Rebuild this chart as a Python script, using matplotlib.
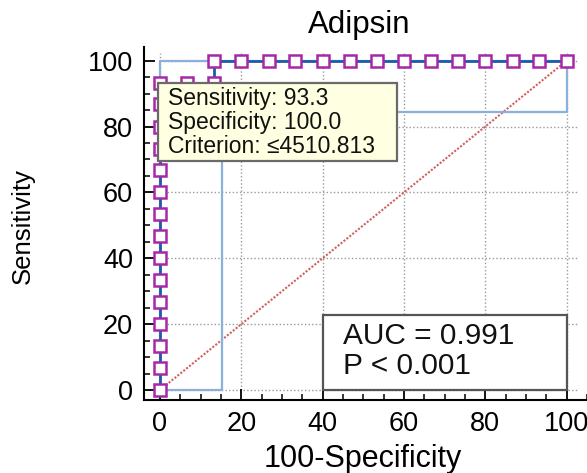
import matplotlib
matplotlib.use("Agg")
import matplotlib.pyplot as plt
from matplotlib.patches import Rectangle
from matplotlib.ticker import MultipleLocator

plt.rcParams['font.family'] = ['Liberation Sans', 'DejaVu Sans']

# ROC data (100-Specificity, Sensitivity)
fpr = [0.0, 0.0, 0.0, 0.0, 0.0, 0.0, 0.0, 0.0, 0.0, 0.0, 0.0, 0.0, 0.0, 0.0, 0.0,
       6.7, 13.3, 13.3, 20.0, 26.7, 33.3, 40.0, 46.7, 53.3, 60.0, 66.7, 73.3,
       80.0, 86.7, 93.3, 100.0]
tpr = [0.0, 6.7, 13.3, 20.0, 26.7, 33.3, 40.0, 46.7, 53.3, 60.0, 66.7, 73.3,
       80.0, 86.7, 93.3, 93.3, 93.3, 100.0, 100.0, 100.0, 100.0, 100.0, 100.0,
       100.0, 100.0, 100.0, 100.0, 100.0, 100.0, 100.0, 100.0]
# confidence bounds
ci_low_x = [0.0, 15.2, 15.2, 100.0, 100.0]
ci_low_y = [0.0, 0.0, 84.5, 84.5, 100.0]
ci_up_x = [0.0, 0.0, 100.0]
ci_up_y = [0.0, 100.0, 100.0]

title = "Adipsin"
xlabel = "100-Specificity"
ylabel = "Sensitivity"
ticks = [0, 20, 40, 60, 80, 100]
tooltip_lines = ["Sensitivity: 93.3", "Specificity: 100.0", "Criterion: \u22644510.813"]
auc_lines = ["AUC = 0.991", "P < 0.001"]

W, H = 587, 473
fig = plt.figure(figsize=(W / 100, H / 100), dpi=100)
ax = fig.add_axes([144 / W, (H - 400) / H, (W - 144) / W, 353 / H])
ax.set_xlim(-3.935, 105.02)
ax.set_ylim(-3.037, 104.16)

for s in ['top', 'right']:
    ax.spines[s].set_visible(False)
for s in ['left', 'bottom']:
    ax.spines[s].set_linewidth(1.5)
    ax.spines[s].set_color('black')

# grid
grid_kw = dict(color='#9a9a9a', linewidth=1.0, linestyle=(0, (1, 1.6)), zorder=1)
ax.hlines(ticks, 0, 102.6, **grid_kw)
ax.vlines(ticks, 0, 102.3, **grid_kw)

# diagonal
ax.plot([0, 100], [0, 100], color='#d06060', linewidth=1.5, linestyle=(0, (1, 0.8)), zorder=2)

# CI lines
ax.plot(ci_low_x, ci_low_y, color='#8ab0dc', linewidth=1.6, zorder=3)
ax.plot(ci_up_x, ci_up_y, color='#8ab0dc', linewidth=1.6, zorder=3)

# ROC curve
ax.plot(fpr, tpr, color='#1f5ca8', linewidth=2.0, zorder=4,
        marker='s', markersize=8.5, markerfacecolor='white',
        markeredgecolor='#a628a8', markeredgewidth=1.8)

ax.set_xticks(ticks)
ax.set_yticks(ticks)
ax.xaxis.set_minor_locator(MultipleLocator(5))
ax.yaxis.set_minor_locator(MultipleLocator(5))
ax.tick_params(which='major', direction='in', length=8, width=1.3, labelsize=19.5, pad=8)
ax.tick_params(which='minor', direction='in', length=4, width=1.1)

# tooltip box
ax.add_patch(Rectangle((-0.5, 69.5), 58.8, 23.7, facecolor='#ffffe1',
                       edgecolor='#6a6a6a', linewidth=1.6, zorder=6))
for txt, yy in zip(tooltip_lines, [86.5, 79.3, 72.0]):
    ax.text(2.0, yy, txt, fontsize=16.5, va='baseline', ha='left', color='#111111', zorder=7)

# AUC box
ax.add_patch(Rectangle((40.1, 0.0), 60.1, 22.8, facecolor='white',
                       edgecolor='#555555', linewidth=1.6, zorder=6))
for txt, yy in zip(auc_lines, [14.0, 4.9]):
    ax.text(45.0, yy, txt, fontsize=21.5, va='baseline', ha='left', color='#111111', zorder=7)

fig.text(359 / W, (H - 33) / H, title, fontsize=22.5, ha='center', va='baseline')
fig.text(363 / W, (H - 467) / H, xlabel, fontsize=22, ha='center', va='baseline')
fig.text(23 / W, (H - 226) / H, ylabel, fontsize=18.5, ha='center', va='center', rotation=90)

fig.savefig('out.png', dpi=100)
